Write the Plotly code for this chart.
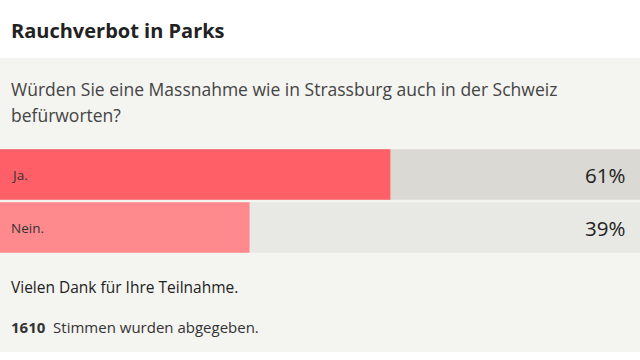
import plotly.graph_objects as go

W, H = 640, 360

title = "Rauchverbot in Parks"
question_lines = ["Würden Sie eine Massnahme wie in Strassburg auch in der Schweiz", "befürworten?"]
answers = ["Ja.", "Nein."]
shares = [61, 39]
bar_colors = ["#ff5f66", "#ff8a8e"]
track_colors = ["#dad9d4", "#e8e8e4"]
thanks = "Vielen Dank für Ihre Teilnahme."
votes = 1610
votes_text = "Stimmen wurden abgegeben."

FONT = "Open Sans"

def py(p):
    return 1 - p / H

def px(p):
    return p / W

fig = go.Figure()
fig.add_trace(go.Bar(y=answers, x=[100] * len(answers), orientation="h",
                     marker=dict(color=track_colors, line=dict(width=0)),
                     hoverinfo="skip", showlegend=False))
fig.add_trace(go.Bar(y=answers, x=shares, orientation="h",
                     marker=dict(color=bar_colors, line=dict(width=0)),
                     showlegend=False))

annotations = []
annotations.append(dict(text=f"<b>{title}</b>", x=px(9), y=py(30), xref="paper", yref="paper",
                        xanchor="left", yanchor="middle", showarrow=False,
                        font=dict(family=FONT, size=20, color="#222222")))
for i, line in enumerate(question_lines):
    annotations.append(dict(text=line, x=px(9), y=py(89 + 26 * i), xref="paper", yref="paper",
                            xanchor="left", yanchor="middle", showarrow=False,
                            font=dict(family=FONT, size=17.5, color="#444444")))
for a, s in zip(answers, shares):
    annotations.append(dict(text=a, x=px(9), y=a, xref="paper", yref="y",
                            xanchor="left", yanchor="middle", showarrow=False,
                            font=dict(family=FONT, size=13.5, color="#333333")))
    annotations.append(dict(text=f"{s}%", x=px(627), y=a, xref="paper", yref="y",
                            xanchor="right", yanchor="middle", showarrow=False,
                            font=dict(family=FONT, size=20.5, color="#222222")))
annotations.append(dict(text=thanks, x=px(9), y=py(287), xref="paper", yref="paper",
                        xanchor="left", yanchor="middle", showarrow=False,
                        font=dict(family=FONT, size=15.5, color="#222222")))
annotations.append(dict(text=f"<b>{votes}</b>  {votes_text}", x=px(9), y=py(327), xref="paper", yref="paper",
                        xanchor="left", yanchor="middle", showarrow=False,
                        font=dict(family=FONT, size=15, color="#333333")))

fig.update_layout(
    width=W, height=H,
    margin=dict(l=0, r=0, t=0, b=0),
    paper_bgcolor="#ffffff", plot_bgcolor="rgba(0,0,0,0)",
    barmode="overlay", bargap=0.05,
    xaxis=dict(range=[0, 100], visible=False, fixedrange=True),
    yaxis=dict(categoryorder="array", categoryarray=answers, autorange="reversed",
               domain=[py(254), py(148)], visible=False, fixedrange=True),
    shapes=[dict(type="rect", xref="paper", yref="paper", x0=0, x1=1, y0=py(352), y1=py(58),
                 fillcolor="#f4f4f1", line=dict(width=0), layer="below")],
    annotations=annotations,
    font=dict(family=FONT),
)

fig.write_html("out.html", config={"displayModeBar": False},
               post_script="document.body.style.margin='0';document.body.style.overflow='hidden';")
